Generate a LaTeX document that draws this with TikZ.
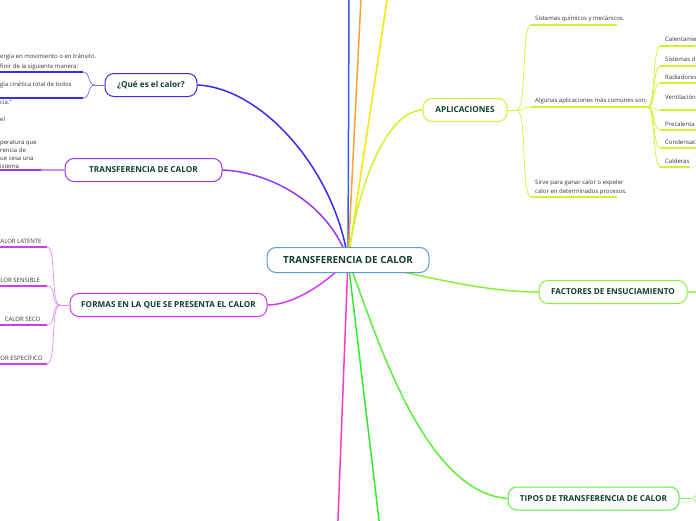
\documentclass[tikz,border=0pt]{standalone}
\usepackage{fontspec}
\setmainfont{Open Sans}
\usetikzlibrary{calc, backgrounds}
\definecolor{marco}{HTML}{5B9BD5}
\definecolor{tinta}{HTML}{123F33}
\definecolor{gris}{HTML}{333333}
\definecolor{azulr}{HTML}{2F5BFF}
\definecolor{naranja}{HTML}{FFA033}
\definecolor{amarillo}{HTML}{F5E600}
\definecolor{capl}{HTML}{D2F030}
\definecolor{cque}{HTML}{3A2BEE}
\definecolor{ctra}{HTML}{9A35F0}
\definecolor{cfor}{HTML}{D23AF0}
\definecolor{cfac}{HTML}{8DED3A}
\definecolor{ctip}{HTML}{5CEE3A}
\definecolor{rosa}{HTML}{FF3ACB}
\definecolor{verde}{HTML}{2EEE2E}
\tikzset{
  centro/.style = {draw=marco, line width=1pt, fill=white, rounded corners=9pt,
                   minimum width=162pt, minimum height=25pt, inner sep=0pt,
                   font=\fontsize{9.8}{11}\selectfont\bfseries, text=tinta},
  tema/.style   = {line width=1pt, fill=white, rounded corners=9pt,
                   minimum height=23pt, inner sep=0pt,
                   font=\fontsize{8.2}{10}\selectfont\bfseries, text=tinta},
  rama/.style   = {line width=1.5pt},
  raya/.style   = {line width=1.8pt},
  hilo/.style   = {line width=0.7pt},
  texto/.style  = {font=\fontsize{6}{8.6}\selectfont, text=gris, inner sep=0pt}
}
\begin{document}
\begin{tikzpicture}[x=1pt, y=-1pt]
  \useasboundingbox (0,0) rectangle (696,520);

  % temas
  \node[centro] (tc) at (348,260) {TRANSFERENCIA DE CALOR};
  \node[tema, draw=cque, minimum width=92pt]  (que) at (151,85)    {¿Qué es el calor?};
  \node[tema, draw=ctra, minimum width=157pt] (tra) at (143.5,170) {TRANSFERENCIA DE CALOR};
  \node[tema, draw=cfor, minimum width=197pt] (for) at (168.5,305) {FORMAS EN LA QUE SE PRESENTA EL CALOR};
  \node[tema, draw=capl, minimum width=84pt]  (apl) at (465,110)   {APLICACIONES};
  \node[tema, draw=cfac, minimum width=148pt] (fac) at (613,292)   {FACTORES DE ENSUCIAMIENTO};
  \node[tema, draw=ctip, minimum width=171pt] (tip) at (593.5,498.5) {TIPOS DE TRANSFERENCIA DE CALOR};

  % extremos libres
  \coordinate (sazul) at (349,-2);
  \coordinate (snar)  at (361,-2);
  \coordinate (samar) at (387.3,-2);
  \coordinate (srosa) at (337.9,522);
  \coordinate (sverd) at (379.2,522);

  \begin{scope}[on background layer]
    \draw[rama, azulr]    (tc.center) -- (sazul);
    \draw[rama, naranja]  (tc.center) -- (snar);
    \draw[rama, amarillo] (tc.center) -- (samar);
    \draw[rama, rosa]     (tc.center) -- (srosa);
    \draw[rama, verde]    (tc.center) -- (sverd);
    \draw[rama, cque] (tc.center) .. controls (335,170) and (262,88) .. (que.east);
    \draw[rama, ctra] (tc.center) .. controls (330,205) and (272,172) .. (tra.east);
    \draw[rama, cfor] (tc.center) .. controls (325,285) and (292,305) .. (for.east);
    \draw[rama, capl] (tc.center) .. controls (355,200) and (382,112) .. (apl.west);
    \draw[rama, cfac] (tc.center) .. controls (420,275) and (482,292) .. (fac.west);
    \draw[rama, ctip] (tc.center) .. controls (375,330) and (422,492) .. (tip.west);
  \end{scope}

  % ¿Que es el calor?
  \coordinate (fq) at (95,85);
  \draw[hilo, cque!70] (que.west) -- (fq);
  \foreach \y in {72,98}{
    \coordinate (q\y) at (83,\y);
    \draw[hilo, cque!70] (fq) to[out=180, in=0, distance=8pt] (q\y);
    \draw[raya, cque] (q\y) -- (-2,\y);
  }
  \foreach \y/\t in {57/ergía en movimiento o en tránsito.,
                     67/finir de la siguiente manera:,
                     85/gía cinética total de todos,
                     102/cia.”, 119/el}{
    \node[texto, anchor=west] at (0,\y) {\t};
  }

  % transferencia
  \coordinate (t1) at (41,170);
  \draw[hilo, ctra!55, line width=1.2pt] (tra.west) -- (t1);
  \draw[raya, ctra] (t1) -- (-2,170);
  \node[texto, anchor=north west, align=left, font=\fontsize{6}{8.1}\selectfont]
    at (0,140.5) {peratura que\\rencia de\\ue cesa una\\istema};

  % formas
  \coordinate (ff) at (60,305);
  \draw[hilo, cfor!60] (for.west) -- (ff);
  \foreach \y/\t/\x/\a in {247/ALOR LATENTE/0.3/west, 286/LOR SENSIBLE/0.3/west,
                           325/CALOR SECO/40.5/east, 364/OR ESPECÍFICO/0.3/west}{
    \coordinate (f\y) at (47,\y);
    \draw[hilo, cfor!60] (ff) to[out=180, in=0, distance=10pt] (f\y);
    \draw[raya, cfor] (f\y) -- (-2,\y);
    \node[texto, anchor=\a] at (\x,\y-6) {\t};
  }

  % aplicaciones
  \coordinate (fa) at (517,110);
  \draw[hilo, capl] (apl.east) -- (fa);
  \coordinate (a1) at (531,25);
  \coordinate (a2) at (531,107);
  \coordinate (a3) at (531,197);
  \foreach \a in {a1,a2,a3}
    \draw[hilo, capl] (fa) to[out=0, in=180, distance=10pt] (\a);
  \draw[raya, capl] (a1) -- ++(86,0);
  \draw[raya, capl] (a2) -- ++(117,0) coordinate (fb);
  \draw[raya, capl] (a3) -- ++(86,0);
  \node[texto, anchor=west] at (535,19)  {Sistemas químicos y mecánicos.};
  \node[texto, anchor=west] at (535,100.5) {Algunas aplicaciones más comunes son:};
  \node[texto, anchor=west, align=left] at (535,187.5)
    {Sirve para ganar calor o expeler\\calor en determinados procesos.};

  \foreach \y/\ty/\t in {46/39.5/Calentamie, 66/59.5/Sistemas d, 83/77/Radiadores,
                         110/97/Ventilación, 130/124/Precalenta, 148/142.5/Condensac,
                         167/161.5/Calderas}{
    \coordinate (b\y) at (660,\y);
    \draw[hilo, capl] (fb) to[out=0, in=180, distance=7pt] (b\y);
    \node[texto, anchor=west] at (665,\ty) {\t};
  }
  \foreach \y in {46,66,83,110,130,148}
    \draw[raya, capl] (b\y) -- (698,\y);
  \draw[raya, capl] (b167) -- (690,167);

  % factores y tipos
  \coordinate (sfac) at (698,292);
  \draw[raya, cfac!80] (fac.east) -- (sfac);
  \coordinate (ft) at (690,498.5);
  \coordinate (t2) at (700,478);
  \coordinate (t3) at (700,519);
  \draw[raya, ctip!80] (tip.east) -- (ft);
  \draw[hilo, ctip!70] (ft) to[out=0, in=260] (t2);
  \draw[hilo, ctip!70] (ft) to[out=0, in=100] (t3);
\end{tikzpicture}
\end{document}
